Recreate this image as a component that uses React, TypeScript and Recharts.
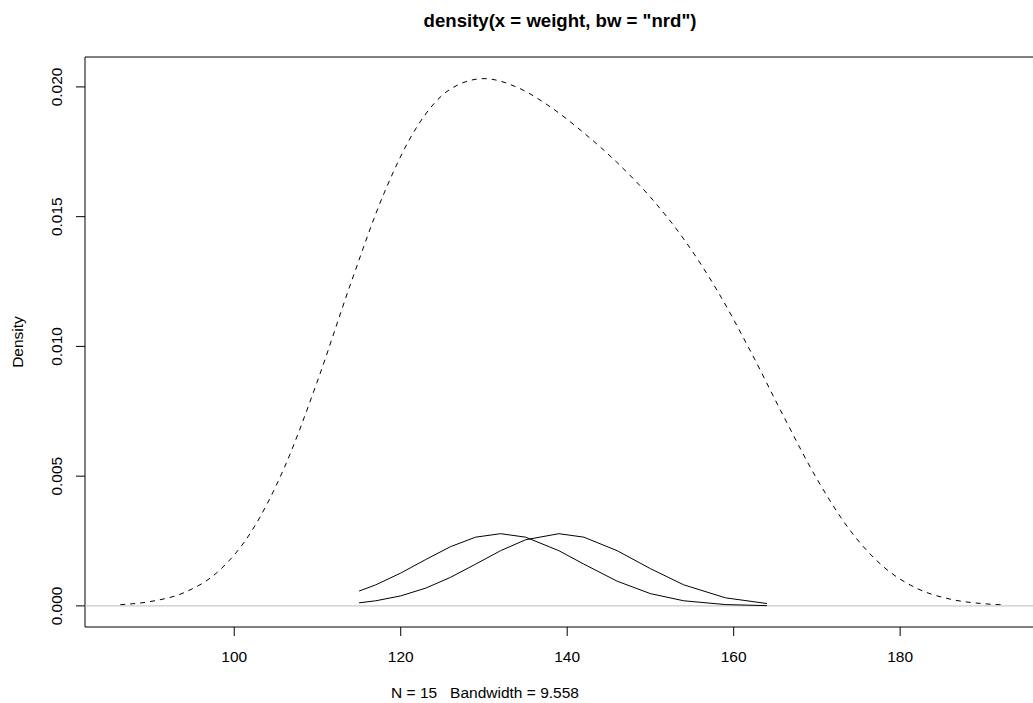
import React from "react";
import { LineChart, Line, XAxis, YAxis, ReferenceLine, ReferenceArea } from "recharts";

// Kernel density estimate of weight (N = 15, bw = 9.558), evaluated on a grid
const densityX = [86.3, 90, 94, 98, 102, 106, 110, 114, 118, 122, 126, 130, 134, 138, 142, 146, 150, 154, 158, 162, 166, 170, 174, 178, 182, 186, 190, 192.4];
const densityY = [0.0000455, 0.000173, 0.000515, 0.001305, 0.002837, 0.005317, 0.008668, 0.012429, 0.015904, 0.018489, 0.019924, 0.02032, 0.019983, 0.019224, 0.018227, 0.017082, 0.01575, 0.01414, 0.012165, 0.00983, 0.007305, 0.004893, 0.002905, 0.001508, 0.000677, 0.000261, 0.000086, 0.0000408];

// Observed weights and two single-kernel contributions (centred at 132 and 139)
const weights = [115, 117, 120, 123, 126, 129, 132, 135, 139, 142, 146, 150, 154, 159, 164];
const kernel132 = [0.000572, 0.000812, 0.001265, 0.001786, 0.002285, 0.002649, 0.002783, 0.002649, 0.002128, 0.00161, 0.000952, 0.000473, 0.000197, 0.0000515, 0.0000102];
const kernel139 = [0.000119, 0.000197, 0.000386, 0.000685, 0.001103, 0.00161, 0.002128, 0.002549, 0.002783, 0.002649, 0.002128, 0.001435, 0.000812, 0.000312, 0.000091];

const xTicks = [100, 120, 140, 160, 180];
const yTicks = [0, 0.005, 0.01, 0.015, 0.02];

const titleText = 'density(x = weight, bw = "nrd")';
const xLabel = "N = 15   Bandwidth = 9.558";
const yLabel = "Density";

const X_DOMAIN: [number, number] = [82.07, 196.2];
const Y_DOMAIN: [number, number] = [-0.000813, 0.021153];

const FONT = '"Liberation Sans", Arial, Helvetica, sans-serif';

const densityData = densityX.map((x, i) => ({ x, y: densityY[i] }));
const kernelData = weights.map((x, i) => ({ x, a: kernel132[i], b: kernel139[i] }));

const XTick = (props: any) => {
  const { x, payload } = props;
  return (
    <text x={x} y={661.5} textAnchor="middle" fontFamily={FONT} fontSize={15.5} fill="#000">
      {payload.value}
    </text>
  );
};

const YTick = (props: any) => {
  const { y, payload } = props;
  const bx = 62.5;
  return (
    <text
      x={bx}
      y={y}
      transform={`rotate(-90 ${bx} ${y})`}
      textAnchor="middle"
      fontFamily={FONT}
      fontSize={15.5}
      fill="#000"
    >
      {Number(payload.value).toFixed(3)}
    </text>
  );
};

export default function App() {
  return (
    <div style={{ position: "absolute", left: 0, top: 0, width: 1033, height: 703, overflow: "hidden", background: "#fff" }}>
      <LineChart
        width={1040}
        height={703}
        margin={{ top: 57, right: 5, bottom: 36, left: 0 }}
      >
        <XAxis
          type="number"
          dataKey="x"
          domain={X_DOMAIN}
          ticks={xTicks}
          allowDataOverflow
          height={40}
          axisLine={false}
          tickSize={9}
          tickLine={{ stroke: "#000", strokeWidth: 1 }}
          tick={<XTick />}
        />
        <YAxis
          type="number"
          domain={Y_DOMAIN}
          ticks={yTicks}
          allowDataOverflow
          width={85}
          axisLine={false}
          tickSize={9}
          tickLine={{ stroke: "#000", strokeWidth: 1 }}
          tick={<YTick />}
        />
        <ReferenceArea
          x1={X_DOMAIN[0]}
          x2={X_DOMAIN[1]}
          y1={Y_DOMAIN[0]}
          y2={Y_DOMAIN[1]}
          fill="none"
          fillOpacity={0}
          stroke="#000"
          strokeWidth={1}
          ifOverflow="visible"
        />
        <Line
          data={densityData}
          dataKey="y"
          type="monotone"
          stroke="#000"
          strokeWidth={1}
          strokeDasharray="5 5"
          dot={false}
          activeDot={false}
          isAnimationActive={false}
        />
        <ReferenceLine y={0} stroke="#bebebe" strokeWidth={1} ifOverflow="visible" />
        <Line
          data={kernelData}
          dataKey="a"
          type="linear"
          stroke="#000"
          strokeWidth={1}
          dot={false}
          activeDot={false}
          isAnimationActive={false}
        />
        <Line
          data={kernelData}
          dataKey="b"
          type="linear"
          stroke="#000"
          strokeWidth={1}
          dot={false}
          activeDot={false}
          isAnimationActive={false}
        />
      </LineChart>
      <svg width={1033} height={703} style={{ position: "absolute", left: 0, top: 0, pointerEvents: "none" }}>
        <text x={560} y={27} textAnchor="middle" fontFamily={FONT} fontSize={18.6} fontWeight="bold" fill="#000">
          {titleText}
        </text>
        <text x={485} y={698} textAnchor="middle" fontFamily={FONT} fontSize={15.5} fill="#000" style={{ whiteSpace: "pre" }}>
          {xLabel}
        </text>
        <text x={23} y={342} transform="rotate(-90 23 342)" textAnchor="middle" fontFamily={FONT} fontSize={15.5} fill="#000">
          {yLabel}
        </text>
      </svg>
    </div>
  );
}
